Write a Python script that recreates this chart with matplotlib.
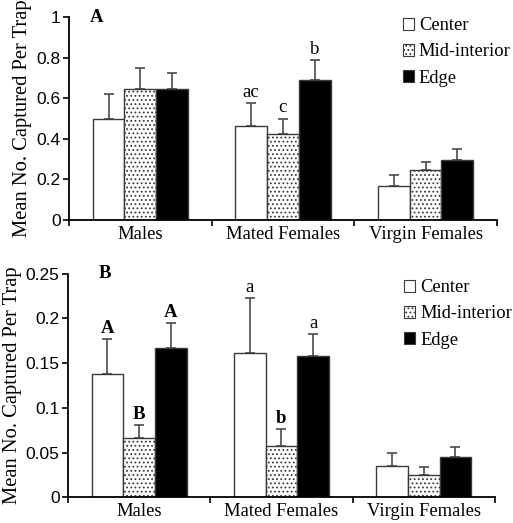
import numpy as np
import matplotlib
matplotlib.use('Agg')
import matplotlib.pyplot as plt
from matplotlib.patches import Patch
from matplotlib.ticker import FixedLocator, FuncFormatter

matplotlib.rcParams['hatch.linewidth'] = 0.8

categories = ['Males', 'Mated Females', 'Virgin Females']
series = ['Center', 'Mid-interior', 'Edge']

# panel A
a_mean = {'Center': [0.50, 0.463, 0.169],
          'Mid-interior': [0.644, 0.424, 0.245],
          'Edge': [0.644, 0.69, 0.297]}
a_err = {'Center': [0.12, 0.115, 0.054],
         'Mid-interior': [0.103, 0.076, 0.039],
         'Edge': [0.081, 0.097, 0.051]}
a_letters = {'Center': ['', 'ac', ''],
             'Mid-interior': ['', 'c', ''],
             'Edge': ['', 'b', '']}

# panel B
b_mean = {'Center': [0.138, 0.161, 0.0346],
          'Mid-interior': [0.066, 0.057, 0.0246],
          'Edge': [0.167, 0.158, 0.0453]}
b_err = {'Center': [0.039, 0.062, 0.0152],
         'Mid-interior': [0.015, 0.0196, 0.0089],
         'Edge': [0.028, 0.024, 0.0105]}
b_letters = {'Center': ['A', 'a', ''],
             'Mid-interior': ['B', 'b', ''],
             'Edge': ['A', 'a', '']}
b_bold = {'A': True, 'B': True, 'b': True, 'a': False}

styles = {'Center': dict(facecolor='white', hatch=None),
          'Mid-interior': dict(facecolor='white', hatch='....'),
          'Edge': dict(facecolor='black', hatch=None)}

serif = 'Liberation Serif'
sans = 'Liberation Sans'
edge_col = '#3a3a3a'
err_col = '#4a4a4a'

fig = plt.figure(figsize=(5.13, 5.23), dpi=100)
axA = fig.add_axes([0.1345, 0.5793, 0.834, 0.388])
axB = fig.add_axes([0.1326, 0.049, 0.832, 0.428])


def draw(ax, means, errs, letters, ymax, yticks, panel, panel_x, bold_map, leg_x, leg_y):
    x = np.arange(len(categories))
    w = 0.223
    for i, s in enumerate(series):
        xs = x + (i - 1) * w
        ax.bar(xs, means[s], w, edgecolor=edge_col, linewidth=1.0,
               zorder=2, **styles[s])
        ax.errorbar(xs, means[s], yerr=[np.zeros(3), errs[s]], fmt='none',
                    ecolor=err_col, elinewidth=1.2, capsize=3.4, capthick=1.2,
                    zorder=1)
        for xi, m, e, lab in zip(xs, means[s], errs[s], letters[s]):
            if lab:
                ax.annotate(lab, (xi, m + e), xytext=(0, 1.5),
                            textcoords='offset points', ha='center',
                            va='bottom', fontsize=13.5, family=serif,
                            fontweight='bold' if bold_map.get(lab, False) else 'normal')
    ax.set_xlim(-0.5, 2.5)
    ax.set_ylim(0, ymax)
    ax.spines['top'].set_visible(False)
    ax.spines['right'].set_visible(False)
    ax.spines['left'].set_linewidth(1.3)
    ax.spines['bottom'].set_linewidth(1.3)
    ax.set_yticks(yticks)
    ax.yaxis.set_major_formatter(FuncFormatter(lambda v, p: ('%g' % v)))
    for t in ax.get_yticklabels():
        t.set_family(sans)
    ax.tick_params(axis='y', labelsize=12.5, length=4, width=1.2, pad=2)
    ax.xaxis.set_major_locator(FixedLocator([-0.5, 0.5, 1.5, 2.5]))
    ax.xaxis.set_major_formatter(FuncFormatter(lambda v, p: ''))
    ax.set_xticks(x, minor=True)
    ax.set_xticklabels(categories, minor=True, family=serif, fontsize=13.4)
    ax.tick_params(axis='x', which='major', length=4, width=1.2)
    ax.tick_params(axis='x', which='minor', length=0, pad=4)
    ax.set_ylabel('Mean No. Captured Per Trap', family=serif, fontsize=14.8,
                  labelpad=3)
    ax.text(panel_x, 1.0, panel, transform=ax.transAxes, family=serif,
            fontsize=13.5, fontweight='bold', ha='center', va='center')
    handles = [Patch(edgecolor=edge_col, linewidth=0.8, **styles[s]) for s in series]
    ax.legend(handles, series, loc='upper left', bbox_to_anchor=(leg_x, leg_y),
              frameon=False, prop={'family': serif, 'size': 13.3},
              handlelength=0.62, handleheight=0.62, handletextpad=0.25,
              labelspacing=0.5, borderpad=0, borderaxespad=0)


draw(axA, a_mean, a_err, a_letters, 1.0, [0, 0.2, 0.4, 0.6, 0.8, 1.0],
     'A', 0.065, {}, 0.78, 1.0)
draw(axB, b_mean, b_err, b_letters, 0.25, [0, 0.05, 0.1, 0.15, 0.2, 0.25],
     'B', 0.087, b_bold, 0.787, 0.975)

fig.savefig('out.png', dpi=100)
